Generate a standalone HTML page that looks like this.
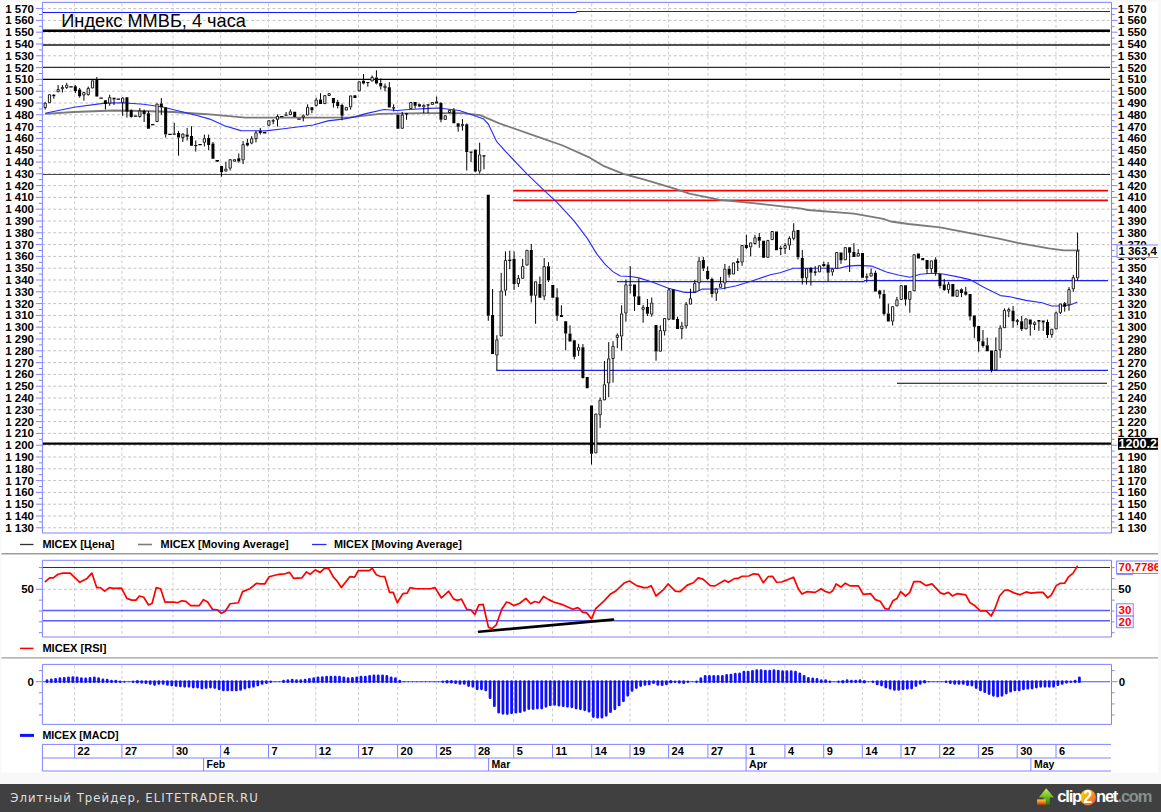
<!DOCTYPE html>
<html><head><meta charset="utf-8"><title>Индекс ММВБ, 4 часа</title>
<style>html,body{margin:0;padding:0;background:#f8f8f8;overflow:hidden}svg{display:block}text{font-family:"Liberation Sans",sans-serif}.b{font-weight:bold;font-size:11.5px;fill:#000}.g{stroke:#c2c2c2;stroke-width:1;stroke-dasharray:3 2.35;fill:none}.gv{stroke:#cdcdcd;stroke-width:1;stroke-dasharray:3 2.35;fill:none}.l{font-weight:bold;font-size:11px;fill:#000}.ax{stroke:#8282ff;stroke-width:1;fill:none}</style></head><body>
<svg width="1161" height="812" viewBox="0 0 1161 812">
<rect x="0" y="0" width="1161" height="812" fill="#f8f8f8"/>
<rect x="1.5" y="1.8" width="1156.5" height="770.7" fill="#fff"/>
<path class="g" d="M42.4 527.8H1109.5M42.4 516H1109.5M42.4 504.2H1109.5M42.4 492.4H1109.5M42.4 480.6H1109.5M42.4 468.8H1109.5M42.4 457H1109.5M42.4 445.2H1109.5M42.4 433.4H1109.5M42.4 421.6H1109.5M42.4 409.8H1109.5M42.4 398H1109.5M42.4 386.2H1109.5M42.4 374.4H1109.5M42.4 362.6H1109.5M42.4 350.8H1109.5M42.4 339H1109.5M42.4 327.2H1109.5M42.4 315.4H1109.5M42.4 303.6H1109.5M42.4 291.8H1109.5M42.4 280H1109.5M42.4 268.2H1109.5M42.4 256.4H1109.5M42.4 244.6H1109.5M42.4 232.8H1109.5M42.4 221H1109.5M42.4 209.2H1109.5M42.4 197.4H1109.5M42.4 185.6H1109.5M42.4 173.8H1109.5M42.4 162H1109.5M42.4 150.2H1109.5M42.4 138.4H1109.5M42.4 126.6H1109.5M42.4 114.8H1109.5M42.4 103H1109.5M42.4 91.2H1109.5M42.4 79.4H1109.5M42.4 67.6H1109.5M42.4 55.8H1109.5M42.4 44H1109.5M42.4 32.2H1109.5M42.4 20.4H1109.5M42.4 8.6H1109.5"/>
<path class="gv" d="M74.6 3.4V533M121.9 3.4V533M173 3.4V533M220.6 3.4V533M268.5 3.4V533M315.8 3.4V533M358.5 3.4V533M397.6 3.4V533M436.4 3.4V533M475 3.4V533M513.7 3.4V533M552.5 3.4V533M591.7 3.4V533M630 3.4V533M668.6 3.4V533M707.9 3.4V533M746.1 3.4V533M784.9 3.4V533M823.7 3.4V533M862.3 3.4V533M901 3.4V533M939.7 3.4V533M978.4 3.4V533M1017.2 3.4V533M1056 3.4V533"/>
<path class="ax" d="M35.9 527.8H42.4M1111.5 527.8H1117.5M38.9 521.9H42.4M1111.5 521.9H1114.5M35.9 516H42.4M1111.5 516H1117.5M38.9 510.1H42.4M1111.5 510.1H1114.5M35.9 504.2H42.4M1111.5 504.2H1117.5M38.9 498.3H42.4M1111.5 498.3H1114.5M35.9 492.4H42.4M1111.5 492.4H1117.5M38.9 486.5H42.4M1111.5 486.5H1114.5M35.9 480.6H42.4M1111.5 480.6H1117.5M38.9 474.7H42.4M1111.5 474.7H1114.5M35.9 468.8H42.4M1111.5 468.8H1117.5M38.9 462.9H42.4M1111.5 462.9H1114.5M35.9 457H42.4M1111.5 457H1117.5M38.9 451.1H42.4M1111.5 451.1H1114.5M35.9 445.2H42.4M1111.5 445.2H1117.5M38.9 439.3H42.4M1111.5 439.3H1114.5M35.9 433.4H42.4M1111.5 433.4H1117.5M38.9 427.5H42.4M1111.5 427.5H1114.5M35.9 421.6H42.4M1111.5 421.6H1117.5M38.9 415.7H42.4M1111.5 415.7H1114.5M35.9 409.8H42.4M1111.5 409.8H1117.5M38.9 403.9H42.4M1111.5 403.9H1114.5M35.9 398H42.4M1111.5 398H1117.5M38.9 392.1H42.4M1111.5 392.1H1114.5M35.9 386.2H42.4M1111.5 386.2H1117.5M38.9 380.3H42.4M1111.5 380.3H1114.5M35.9 374.4H42.4M1111.5 374.4H1117.5M38.9 368.5H42.4M1111.5 368.5H1114.5M35.9 362.6H42.4M1111.5 362.6H1117.5M38.9 356.7H42.4M1111.5 356.7H1114.5M35.9 350.8H42.4M1111.5 350.8H1117.5M38.9 344.9H42.4M1111.5 344.9H1114.5M35.9 339H42.4M1111.5 339H1117.5M38.9 333.1H42.4M1111.5 333.1H1114.5M35.9 327.2H42.4M1111.5 327.2H1117.5M38.9 321.3H42.4M1111.5 321.3H1114.5M35.9 315.4H42.4M1111.5 315.4H1117.5M38.9 309.5H42.4M1111.5 309.5H1114.5M35.9 303.6H42.4M1111.5 303.6H1117.5M38.9 297.7H42.4M1111.5 297.7H1114.5M35.9 291.8H42.4M1111.5 291.8H1117.5M38.9 285.9H42.4M1111.5 285.9H1114.5M35.9 280H42.4M1111.5 280H1117.5M38.9 274.1H42.4M1111.5 274.1H1114.5M35.9 268.2H42.4M1111.5 268.2H1117.5M38.9 262.3H42.4M1111.5 262.3H1114.5M35.9 256.4H42.4M1111.5 256.4H1117.5M38.9 250.5H42.4M1111.5 250.5H1114.5M35.9 244.6H42.4M1111.5 244.6H1117.5M38.9 238.7H42.4M1111.5 238.7H1114.5M35.9 232.8H42.4M1111.5 232.8H1117.5M38.9 226.9H42.4M1111.5 226.9H1114.5M35.9 221H42.4M1111.5 221H1117.5M38.9 215.1H42.4M1111.5 215.1H1114.5M35.9 209.2H42.4M1111.5 209.2H1117.5M38.9 203.3H42.4M1111.5 203.3H1114.5M35.9 197.4H42.4M1111.5 197.4H1117.5M38.9 191.5H42.4M1111.5 191.5H1114.5M35.9 185.6H42.4M1111.5 185.6H1117.5M38.9 179.7H42.4M1111.5 179.7H1114.5M35.9 173.8H42.4M1111.5 173.8H1117.5M38.9 167.9H42.4M1111.5 167.9H1114.5M35.9 162H42.4M1111.5 162H1117.5M38.9 156.1H42.4M1111.5 156.1H1114.5M35.9 150.2H42.4M1111.5 150.2H1117.5M38.9 144.3H42.4M1111.5 144.3H1114.5M35.9 138.4H42.4M1111.5 138.4H1117.5M38.9 132.5H42.4M1111.5 132.5H1114.5M35.9 126.6H42.4M1111.5 126.6H1117.5M38.9 120.7H42.4M1111.5 120.7H1114.5M35.9 114.8H42.4M1111.5 114.8H1117.5M38.9 108.9H42.4M1111.5 108.9H1114.5M35.9 103H42.4M1111.5 103H1117.5M38.9 97.1H42.4M1111.5 97.1H1114.5M35.9 91.2H42.4M1111.5 91.2H1117.5M38.9 85.3H42.4M1111.5 85.3H1114.5M35.9 79.4H42.4M1111.5 79.4H1117.5M38.9 73.5H42.4M1111.5 73.5H1114.5M35.9 67.6H42.4M1111.5 67.6H1117.5M38.9 61.7H42.4M1111.5 61.7H1114.5M35.9 55.8H42.4M1111.5 55.8H1117.5M38.9 49.9H42.4M1111.5 49.9H1114.5M35.9 44H42.4M1111.5 44H1117.5M38.9 38.1H42.4M1111.5 38.1H1114.5M35.9 32.2H42.4M1111.5 32.2H1117.5M38.9 26.3H42.4M1111.5 26.3H1114.5M35.9 20.4H42.4M1111.5 20.4H1117.5M38.9 14.5H42.4M1111.5 14.5H1114.5M35.9 8.6H42.4M1111.5 8.6H1117.5"/>
<text class="b" x="34" y="531.7" text-anchor="end">1 130</text>
<text class="b" x="1117.8" y="531.7">1 130</text>
<text class="b" x="34" y="519.9" text-anchor="end">1 140</text>
<text class="b" x="1117.8" y="519.9">1 140</text>
<text class="b" x="34" y="508.1" text-anchor="end">1 150</text>
<text class="b" x="1117.8" y="508.1">1 150</text>
<text class="b" x="34" y="496.3" text-anchor="end">1 160</text>
<text class="b" x="1117.8" y="496.3">1 160</text>
<text class="b" x="34" y="484.5" text-anchor="end">1 170</text>
<text class="b" x="1117.8" y="484.5">1 170</text>
<text class="b" x="34" y="472.7" text-anchor="end">1 180</text>
<text class="b" x="1117.8" y="472.7">1 180</text>
<text class="b" x="34" y="460.9" text-anchor="end">1 190</text>
<text class="b" x="1117.8" y="460.9">1 190</text>
<text class="b" x="34" y="449.1" text-anchor="end">1 200</text>
<text class="b" x="1117.8" y="449.1">1 200</text>
<text class="b" x="34" y="437.3" text-anchor="end">1 210</text>
<text class="b" x="1117.8" y="437.3">1 210</text>
<text class="b" x="34" y="425.5" text-anchor="end">1 220</text>
<text class="b" x="1117.8" y="425.5">1 220</text>
<text class="b" x="34" y="413.7" text-anchor="end">1 230</text>
<text class="b" x="1117.8" y="413.7">1 230</text>
<text class="b" x="34" y="401.9" text-anchor="end">1 240</text>
<text class="b" x="1117.8" y="401.9">1 240</text>
<text class="b" x="34" y="390.1" text-anchor="end">1 250</text>
<text class="b" x="1117.8" y="390.1">1 250</text>
<text class="b" x="34" y="378.3" text-anchor="end">1 260</text>
<text class="b" x="1117.8" y="378.3">1 260</text>
<text class="b" x="34" y="366.5" text-anchor="end">1 270</text>
<text class="b" x="1117.8" y="366.5">1 270</text>
<text class="b" x="34" y="354.7" text-anchor="end">1 280</text>
<text class="b" x="1117.8" y="354.7">1 280</text>
<text class="b" x="34" y="342.9" text-anchor="end">1 290</text>
<text class="b" x="1117.8" y="342.9">1 290</text>
<text class="b" x="34" y="331.1" text-anchor="end">1 300</text>
<text class="b" x="1117.8" y="331.1">1 300</text>
<text class="b" x="34" y="319.3" text-anchor="end">1 310</text>
<text class="b" x="1117.8" y="319.3">1 310</text>
<text class="b" x="34" y="307.5" text-anchor="end">1 320</text>
<text class="b" x="1117.8" y="307.5">1 320</text>
<text class="b" x="34" y="295.7" text-anchor="end">1 330</text>
<text class="b" x="1117.8" y="295.7">1 330</text>
<text class="b" x="34" y="283.9" text-anchor="end">1 340</text>
<text class="b" x="1117.8" y="283.9">1 340</text>
<text class="b" x="34" y="272.1" text-anchor="end">1 350</text>
<text class="b" x="1117.8" y="272.1">1 350</text>
<text class="b" x="34" y="260.3" text-anchor="end">1 360</text>
<text class="b" x="1117.8" y="260.3">1 360</text>
<text class="b" x="34" y="248.5" text-anchor="end">1 370</text>
<text class="b" x="1117.8" y="248.5">1 370</text>
<text class="b" x="34" y="236.7" text-anchor="end">1 380</text>
<text class="b" x="1117.8" y="236.7">1 380</text>
<text class="b" x="34" y="224.9" text-anchor="end">1 390</text>
<text class="b" x="1117.8" y="224.9">1 390</text>
<text class="b" x="34" y="213.1" text-anchor="end">1 400</text>
<text class="b" x="1117.8" y="213.1">1 400</text>
<text class="b" x="34" y="201.3" text-anchor="end">1 410</text>
<text class="b" x="1117.8" y="201.3">1 410</text>
<text class="b" x="34" y="189.5" text-anchor="end">1 420</text>
<text class="b" x="1117.8" y="189.5">1 420</text>
<text class="b" x="34" y="177.7" text-anchor="end">1 430</text>
<text class="b" x="1117.8" y="177.7">1 430</text>
<text class="b" x="34" y="165.9" text-anchor="end">1 440</text>
<text class="b" x="1117.8" y="165.9">1 440</text>
<text class="b" x="34" y="154.1" text-anchor="end">1 450</text>
<text class="b" x="1117.8" y="154.1">1 450</text>
<text class="b" x="34" y="142.3" text-anchor="end">1 460</text>
<text class="b" x="1117.8" y="142.3">1 460</text>
<text class="b" x="34" y="130.5" text-anchor="end">1 470</text>
<text class="b" x="1117.8" y="130.5">1 470</text>
<text class="b" x="34" y="118.7" text-anchor="end">1 480</text>
<text class="b" x="1117.8" y="118.7">1 480</text>
<text class="b" x="34" y="106.9" text-anchor="end">1 490</text>
<text class="b" x="1117.8" y="106.9">1 490</text>
<text class="b" x="34" y="95.1" text-anchor="end">1 500</text>
<text class="b" x="1117.8" y="95.1">1 500</text>
<text class="b" x="34" y="83.3" text-anchor="end">1 510</text>
<text class="b" x="1117.8" y="83.3">1 510</text>
<text class="b" x="34" y="71.5" text-anchor="end">1 520</text>
<text class="b" x="1117.8" y="71.5">1 520</text>
<text class="b" x="34" y="59.7" text-anchor="end">1 530</text>
<text class="b" x="1117.8" y="59.7">1 530</text>
<text class="b" x="34" y="47.9" text-anchor="end">1 540</text>
<text class="b" x="1117.8" y="47.9">1 540</text>
<text class="b" x="34" y="36.1" text-anchor="end">1 550</text>
<text class="b" x="1117.8" y="36.1">1 550</text>
<text class="b" x="34" y="24.3" text-anchor="end">1 560</text>
<text class="b" x="1117.8" y="24.3">1 560</text>
<text class="b" x="34" y="12.5" text-anchor="end">1 570</text>
<text class="b" x="1117.8" y="12.5">1 570</text>
<path d="M42.4 12.5H576.5V11.5H1110" stroke="#1818ff" stroke-width="1" fill="none"/>
<path d="M42.4 30.7H1110" stroke="#000" stroke-width="2.4"/>
<path d="M42.4 45.1H1110" stroke="#505050" stroke-width="2"/>
<path d="M42.4 67.4H1110" stroke="#303030" stroke-width="1.2"/>
<path d="M42.4 79.3H1110" stroke="#000" stroke-width="1.2"/>
<path d="M42.4 174.5H576" stroke="#4a4a4a" stroke-width="1"/>
<path d="M576 174.4H1110" stroke="#2a2a2a" stroke-width="1.05"/>
<path d="M513.2 190.6H1108M513.2 200.4H1108" stroke="#f00" stroke-width="1.9"/>
<path d="M617 281.6H864.5M864 280.7H1108" stroke="#2020ff" stroke-width="1.25"/>
<path d="M496.4 370.4H1108" stroke="#2020ff" stroke-width="1.1"/>
<path d="M897 383.3H1107" stroke="#000" stroke-width="1.1"/>
<path d="M42.4 443.6H1111" stroke="#000" stroke-width="2.1"/>
<polyline points="45.2,113.9 74,112 113.9,110.5 143.4,111 173,112 195,113.5 209.8,114.4 245.2,117.6 283.6,117.6 325,117.6 350,117.3 379.5,113.9 423.9,113.2 462.3,113.2 480,115.2 499.3,123.4 535.1,135.8 562.7,145.5 590.3,157.9 604,166.2 623.3,173.9 645.4,179.9 672.9,188.2 689.5,193.7 719.8,199.8 755.6,203.4 800,208.3 808,210 853.9,213.7 883.4,218.9 890.8,221.5 908.5,224 940,227.4 1000,238.8 1017.7,242.8 1048.8,248.3 1063.6,250.4 1079.8,250.4" fill="none" stroke="#7a7a7a" stroke-width="1.8" stroke-linejoin="round"/>
<polyline points="45.2,113.2 74,107.3 105,103.1 122,102.8 143.4,104.3 162.6,107 195,115 209.8,119.1 224.5,125.7 240.8,130.6 265.9,130.9 283.6,128.7 313.2,125 327.9,120.9 342.7,119.1 355,116.9 364.8,113.9 384,109.5 397.3,110.5 409,109.5 429.8,108.4 438.6,108 459.3,110.5 474,115.4 483.7,119.1 488.3,124 496.5,141.3 507.6,153.7 526.9,173.9 543.5,189.8 556.8,202.2 574.5,221.4 587.8,239.1 596.7,253.9 605.6,264.9 612.9,271.6 620.3,276 630.7,276.5 638.9,277.9 652.2,282 668.4,288.2 684.7,292.4 695,292.4 702.4,289.1 721.6,288.7 736.4,285.7 751.1,281.3 770.3,274.7 780,272.8 793.3,268.3 824.3,268.3 839,268.3 848,266.1 858.3,265.4 871.6,266.1 886.4,272 898.2,275 910,277.2 920.3,274.3 932.1,273.2 942.8,274 955.6,276.4 970,279.6 982.8,286.8 1000.4,295.6 1010,296.8 1026,300.4 1042,302.8 1051.7,306 1062.9,306 1070.9,304.8 1077.3,302" fill="none" stroke="#2828ff" stroke-width="1.1" stroke-linejoin="round"/>
<path d="M45.2 102V102.8M45.2 108V109.5M53.8 94V94.7M53.8 96.2V98.7M58.11 85.1V89.2M62.41 85.1V87M62.41 89.1V92.5M66.71 82.9V84.8M66.71 88V88.8M75.31 85.1V86.3M75.31 91V93.2M79.61 88V89.5M79.61 96.2V97.7M83.91 91.8V92.2M83.91 95.5V100.6M88.22 86.6V88M88.22 95V95.5M96.82 77V79.2M96.82 96.6V97M105.42 104V109.5M109.72 94.7V97.2M109.72 103.6V105.8M114.03 99.6V105M122.63 97V97.7M122.63 102.8V115.8M126.93 111.7V117.6M131.23 109.5V110.2M131.23 116.9V117.6M139.84 108V110.5M139.84 116.9V117.6M144.14 109.5V111M144.14 113.9V122M148.44 111V113.2M161.34 98.1V103.6M161.34 107.3V114.7M165.65 134.6V137.5M174.25 122.8V133.6M178.55 130.9V133.1M178.55 137.5V155.7M182.85 133.1V133.6M182.85 138V142M187.15 127.9V134.6M187.15 136.8V140.5M191.46 126.2V136.1M195.76 140.5V144.9M195.76 145.7V151.6M204.36 134.6V138.3M204.36 142.7V146.4M208.66 134.6V138M208.66 144.9V150.1M212.96 142V143.5M217.27 160.7V162M221.57 172.3V176.7M225.87 161.9V168.6M230.17 168.6V170.5M238.77 153.4V158.2M238.77 161.6V162.7M243.08 140.9V144.2M243.08 160.4V164.1M247.38 139V142.7M247.38 145.4V146.4M251.68 136.1V138.3M251.68 143.5V144.2M255.98 130.9V132.4M255.98 139V142.4M260.28 127.9V130.9M260.28 133.1V134.6M273.19 119.1V120.3M273.19 120.9V124.3M277.49 114.4V116.1M277.49 119.8V126.5M286.09 112V114.5M290.39 109.5V111.4M303.3 114.4V115.4M303.3 117.6V121.3M307.6 104.3V107M311.9 110.2V113.2M316.2 97.7V99.6M316.2 105.8V106.5M320.51 93.2V99.6M333.41 103.1V107.6M337.71 99.9V102.1M337.71 106.1V108.4M342.01 103.6V105M342.01 115.8V120.3M350.62 107.3V109.5M363.52 74V80.7M363.52 83.6V84.4M367.82 82.5V86.6M372.13 75.5V77M376.43 70.3V77.4M376.43 83.6V84.4M380.73 78.5V82.9M380.73 86.6V89.5M385.03 83.6V85.8M385.03 88.1V91.3M389.33 82.2V87.3M393.63 104.3V107.3M393.63 108V111.4M402.24 112V114.7M406.54 113.8V119.8M415.14 105.8V108.4M419.44 103.6V104.3M419.44 106.5V107.2M423.75 104.3V105M423.75 107.3V113.2M428.05 104.9V113.2M436.65 96.6V101.4M440.95 102.1V103.1M440.95 119.8V122.3M453.86 108V110.2M458.16 126.8V131.6M462.46 119.1V124.3M462.46 125.7V130.6M466.76 123.5V124.3M466.76 151.9V170.5M471.06 152.2V161.9M475.37 149.4V149.8M475.37 171.5V172.3M479.67 142.7V154.5M479.67 171.5V173.7M483.97 155.9V169.3M488.27 315.7V320.8M492.57 289.1V314.9M496.87 335.2V339.5M496.87 355.5V370.5M501.18 272.8V290.6M505.48 251.4V260M505.48 290.6V295.7M509.78 250.7V259.5M509.78 261V269.1M514.08 251.4V258.8M514.08 283.9V289.8M518.38 275V278M518.38 283.9V286.9M522.68 258.8V266.2M531.29 244V249.9M531.29 295.7V302.4M535.59 295.7V323.8M539.89 276.5V283.9M544.19 258.1V266.2M544.19 296.5V300.2M548.49 262.2V266.2M548.49 280.2V282M557.1 288.3V297.2M557.1 315.7V320.8M561.4 305.3V314.9M565.7 333.4V350.3M570 325.3V333.4M574.3 356.7V359.3M578.61 343.8V347.2M578.61 350.7V355.9M582.91 344.1V347.2M582.91 377.9V378.6M591.51 453.8V464.5M600.11 397.6V399.8M600.11 415.3V427.9M604.42 361V384.3M608.72 342.1V358.4M608.72 383.4V397.2M613.02 341.2V345.9M613.02 359V382.6M617.32 333.4V334.9M617.32 337.8V348.2M621.62 305.3V313.5M621.62 336.4V350.5M625.92 279.5V284.4M625.92 313.5V321.6M630.23 266.2V284.4M630.23 285.8V293.5M634.53 296.5V310.9M638.83 278.5V296.3M643.13 304.9V306.9M643.13 309.8V322.7M647.43 299V307.1M647.43 313.8V316M651.73 297.5V302.7M651.73 314.5V316.7M656.04 351.6V360.7M660.34 325.3V330.2M664.64 331.4V335.5M668.94 288V289.4M677.54 316.7V319M681.85 321.9V325.6M681.85 329V338.9M686.15 302V303.9M686.15 326.4V328.6M690.45 288.7V298.3M694.75 279.8V283.2M694.75 292.4V293.1M699.05 256.9V260.6M699.05 283.2V290.9M703.35 256.9V259.9M703.35 268.4V271M707.66 266.5V271M707.66 279.1V279.8M711.96 277.6V279.1M711.96 293.9V297.5M716.26 287.9V288.7M716.26 293.6V300.9M720.56 276.9V283.5M724.86 264V268.7M724.86 283.5V289.4M729.16 265.8V268.7M729.16 274.7V277.6M737.77 258.4V261.1M737.77 263.1V271M742.07 262.5V265.8M746.37 234.8V245.1M746.37 248.1V249.2M750.67 247.3V256.2M754.97 234.8V237.4M754.97 243.9V244.4M759.28 233V237M759.28 240.7V247.8M780.78 245.8V247.7M780.78 248.3V255.2M785.09 242.9V245.1M785.09 248.8V254M789.39 236.3V238M789.39 245.5V249.9M793.69 223.3V230.7M793.69 238.8V240.3M797.99 257.3V259.5M802.29 249.9V258M802.29 278.2V284.6M806.59 278.2V284.6M810.9 266.9V267.9M810.9 272.8V285.6M815.2 266.1V271.3M815.2 272.8V275.7M823.8 261.7V263.9M823.8 266.1V266.9M828.1 262V264.4M828.1 272.8V281.6M832.4 268.3V268.8M832.4 272.3V275.7M841.01 260.2V263.9M849.61 252.8V272M853.91 243.2V252.1M858.21 249.1V253.1M866.82 273.5V276.2M866.82 277.7V282.4M871.12 268.3V272.8M875.42 270.6V272.8M879.72 289.8V290.5M879.72 294.5V298.6M884.02 289.8V293.9M884.02 314.1V315.6M888.33 303.8V313.4M892.63 321.5V325.5M896.93 296.9V299.4M905.53 299.4V305.7M909.83 299.8V312.7M927.04 269.1V273.8M931.34 269.1V272.8M935.64 257.3V259.5M935.64 272.8V275.7M939.95 286V288.4M944.25 278.8V284.4M944.25 290V290.8M948.55 282V283.9M948.55 290V293.5M961.45 288.4V289.2M961.45 292.9V297.2M965.76 286.8V291.6M965.76 294.8V295.6M970.06 316.4V320.4M974.36 326.8V338.1M978.66 341.6V351.7M982.96 330V341.3M982.96 346.1V347.7M987.26 337.7V345.3M991.57 370.4V372.5M995.87 337.3V350.1M1000.17 325.2V327.6M1000.17 350.5V358.1M1004.47 308.4V310M1008.77 307.6V309.2M1008.77 311.6V317.2M1013.07 306V310.8M1013.07 321.2V327.6M1017.38 318.8V320.1M1017.38 322V325.2M1021.68 316V321.2M1021.68 329.3V330.9M1030.28 324.4V335.7M1034.58 321.2V322.4M1034.58 324.9V330M1038.88 321.7V330.9M1043.19 322.4V330.9M1047.49 319.6V322M1047.49 334.9V338.1M1051.79 334.9V337.7M1056.09 311.6V312.4M1060.39 312.8V314M1064.69 302V303.2M1064.69 306.8V311.6M1069 287.1V289.2M1069 305.2V310.8M1073.3 274.8V277.2M1073.3 289.2V291.9M1077.6 232.5V250.7M1077.6 278.3V280.5" stroke="#000" stroke-width="1" fill="none"/>
<path d="M52.3 94.7h3v1.5h-3zM69.31 86.3h3.4v1.3h-3.4zM73.81 86.3h3v4.7h-3zM78.11 89.5h3v6.7h-3zM95.32 79.2h3v17.4h-3zM99.42 97.5h3.4v1.3h-3.4zM103.92 100.2h3v3.8h-3zM112.53 97.7h3v1.9h-3zM116.63 98.5h3.4v1.3h-3.4zM125.43 97.2h3v14.5h-3zM129.73 110.2h3v6.7h-3zM133.83 115.5h3.4v1.3h-3.4zM142.64 111h3v2.9h-3zM146.94 113.2h3v15.5h-3zM151.04 123.9h3.4v1.3h-3.4zM159.84 103.6h3v3.7h-3zM164.15 107.6h3v27h-3zM168.25 133.7h3.4v1.3h-3.4zM172.75 133.6h3v1.2h-3zM177.05 133.1h3v4.4h-3zM185.65 134.6h3v2.2h-3zM189.96 136.1h3v9.6h-3zM194.26 144.9h3v1.2h-3zM198.36 143.9h3.4v1.3h-3.4zM207.16 138h3v6.9h-3zM211.46 143.5h3v15.2h-3zM215.57 160.1h3.4v1.3h-3.4zM220.07 166h3v6.3h-3zM237.27 158.2h3v3.4h-3zM245.88 142.7h3v2.7h-3zM258.78 130.9h3v2.2h-3zM262.88 132.1h3.4v1.3h-3.4zM271.69 120.3h3v1.2h-3zM280.09 116h3.4v1.3h-3.4zM284.59 114.5h3v1.2h-3zM293.2 111.7h3v5.2h-3zM297.3 118.5h3.4v1.3h-3.4zM310.4 107.3h3v2.9h-3zM319.01 99.6h3v4.4h-3zM331.91 98.1h3v5h-3zM336.21 102.1h3v4h-3zM340.51 105h3v10.8h-3zM353.42 95.2h3v2.9h-3zM362.02 80.7h3v2.9h-3zM366.32 81.9h3v1.2h-3zM374.93 77.4h3v6.2h-3zM379.23 82.9h3v3.7h-3zM387.83 87.3h3v20.3h-3zM392.13 107.3h3v1.2h-3zM396.44 114.7h3v14h-3zM405.04 113.2h3v1.2h-3zM413.64 102.1h3v3.7h-3zM417.94 104.3h3v2.2h-3zM426.55 104.3h3v1.2h-3zM435.15 101.4h3v2.2h-3zM439.45 103.1h3v16.7h-3zM452.36 110.2h3v13h-3zM456.66 123.2h3v3.6h-3zM460.96 124.3h3v1.4h-3zM465.26 124.3h3v27.6h-3zM469.56 151.6h3v1.2h-3zM473.87 149.8h3v21.7h-3zM482.47 155.3h3v1.2h-3zM486.77 194.8h3v120.9h-3zM491.07 314.9h3v39.2h-3zM508.28 259.5h3v1.5h-3zM512.58 258.8h3v25.1h-3zM529.79 249.9h3v45.8h-3zM538.39 283.9h3v13.8h-3zM546.99 266.2h3v14h-3zM551.3 284.9h3v12.8h-3zM555.6 297.2h3v18.5h-3zM559.9 314.9h3v2.2h-3zM564.2 321.3h3v12.1h-3zM568.5 333.4h3v8.1h-3zM572.8 340.3h3v16.4h-3zM581.41 347.2h3v30.7h-3zM585.71 376.9h3v11.4h-3zM590.01 405.5h3v48.3h-3zM628.73 284.4h3v1.4h-3zM633.03 284.4h3v12.1h-3zM637.33 296.3h3v8.8h-3zM645.93 307.1h3v6.7h-3zM654.54 325h3v26.6h-3zM671.74 289.4h3v30.3h-3zM676.04 319h3v10h-3zM701.85 259.9h3v8.5h-3zM706.16 271h3v8.1h-3zM710.46 279.1h3v14.8h-3zM727.66 268.7h3v6h-3zM736.27 261.1h3v2h-3zM744.87 245.1h3v3h-3zM757.78 237h3v3.7h-3zM762.08 240.7h3v17h-3zM774.98 231.5h3v18.8h-3zM779.28 247.7h3v1.2h-3zM796.49 229.9h3v27.4h-3zM800.79 258h3v20.2h-3zM809.4 267.9h3v4.9h-3zM822.3 263.9h3v2.2h-3zM826.6 264.4h3v8.4h-3zM839.51 252.5h3v7.7h-3zM848.11 247.2h3v5.6h-3zM852.41 252.1h3v4.9h-3zM861.02 253.1h3v24.6h-3zM865.32 276.2h3v1.5h-3zM873.92 272.8h3v18.7h-3zM878.22 290.5h3v4h-3zM882.52 293.9h3v20.2h-3zM886.83 313.4h3v8.1h-3zM904.03 285.3h3v14.1h-3zM916.94 253.6h3v4.8h-3zM921.24 258h3v2.2h-3zM925.54 259.9h3v9.2h-3zM934.14 259.5h3v13.3h-3zM938.45 273.7h3v12.3h-3zM942.75 284.4h3v5.6h-3zM951.35 283.9h3v12.5h-3zM959.95 289.2h3v3.7h-3zM964.26 291.6h3v3.2h-3zM968.56 294h3v22.4h-3zM972.86 315.6h3v11.2h-3zM977.16 326h3v15.6h-3zM981.46 341.3h3v4.8h-3zM985.76 345.3h3v5.9h-3zM990.07 350.5h3v19.9h-3zM1011.57 310.8h3v10.4h-3zM1020.18 321.2h3v8.1h-3zM1028.78 319.6h3v4.8h-3zM1037.38 320.1h3v1.6h-3zM1041.69 320.4h3v2h-3zM1045.99 322h3v12.9h-3zM1063.19 303.2h3v3.6h-3z" fill="#000"/>
<path d="M44.1 103.2h2.2v4.4h-2.2zM48.4 94.7h2.2v8h-2.2zM57.01 89.6h2.2v2.2h-2.2zM61.31 87.4h2.2v1.3h-2.2zM65.61 85.2h2.2v2.4h-2.2zM82.81 92.6h2.2v2.5h-2.2zM87.12 88.4h2.2v6.2h-2.2zM91.42 80.8h2.2v7.2h-2.2zM108.62 97.6h2.2v5.6h-2.2zM121.53 98.1h2.2v4.3h-2.2zM138.74 110.9h2.2v5.6h-2.2zM155.94 104h2.2v17.6h-2.2zM181.75 134h2.2v3.6h-2.2zM203.26 138.7h2.2v3.6h-2.2zM224.77 169h2.2v2.1h-2.2zM229.07 159.7h2.2v8.5h-2.2zM233.37 159.7h2.2v1.5h-2.2zM241.98 144.6h2.2v15.4h-2.2zM250.58 138.7h2.2v4.4h-2.2zM254.88 132.8h2.2v5.8h-2.2zM267.79 120.7h2.2v4.6h-2.2zM276.39 116.5h2.2v2.9h-2.2zM289.29 111.8h2.2v2.8h-2.2zM302.2 115.8h2.2v1.4h-2.2zM306.5 107.4h2.2v7.6h-2.2zM315.1 100h2.2v5.4h-2.2zM323.71 95.6h2.2v8h-2.2zM328.01 93.6h2.2v1.9h-2.2zM345.22 107.4h2.2v2.7h-2.2zM349.52 95.9h2.2v11h-2.2zM358.12 81.8h2.2v9.1h-2.2zM371.03 77.4h2.2v3.6h-2.2zM383.93 86.2h2.2v1.5h-2.2zM401.14 115.1h2.2v13.2h-2.2zM409.74 102.5h2.2v6.1h-2.2zM422.65 105.4h2.2v1.5h-2.2zM431.25 102.5h2.2v1.9h-2.2zM444.15 115.8h2.2v3.6h-2.2zM448.46 110.3h2.2v2.2h-2.2zM478.57 154.9h2.2v16.2h-2.2zM495.77 339.9h2.2v15.2h-2.2zM500.08 291h2.2v45h-2.2zM504.38 260.4h2.2v29.8h-2.2zM517.28 278.4h2.2v5.1h-2.2zM521.58 266.6h2.2v11.7h-2.2zM525.89 250.3h2.2v14.8h-2.2zM534.49 281.8h2.2v13.5h-2.2zM543.09 266.6h2.2v29.5h-2.2zM577.51 347.6h2.2v2.7h-2.2zM594.71 414h2.2v38.9h-2.2zM599.01 400.2h2.2v14.7h-2.2zM603.32 384.7h2.2v15.2h-2.2zM607.62 358.8h2.2v24.2h-2.2zM611.92 346.3h2.2v12.3h-2.2zM616.22 335.3h2.2v2.1h-2.2zM620.52 313.9h2.2v22.1h-2.2zM624.82 284.8h2.2v28.3h-2.2zM642.03 307.3h2.2v2.1h-2.2zM650.63 303.1h2.2v11h-2.2zM659.24 330.6h2.2v20.6h-2.2zM663.54 318.5h2.2v12.5h-2.2zM667.84 289.8h2.2v29.5h-2.2zM680.75 326h2.2v2.6h-2.2zM685.05 304.3h2.2v21.7h-2.2zM689.35 298.7h2.2v5.4h-2.2zM693.65 283.6h2.2v8.4h-2.2zM697.95 261h2.2v21.8h-2.2zM715.16 289.1h2.2v4.1h-2.2zM719.46 283.9h2.2v3.4h-2.2zM723.76 269.1h2.2v14h-2.2zM732.37 262.9h2.2v11.1h-2.2zM740.97 245.5h2.2v16.6h-2.2zM749.57 242.9h2.2v4h-2.2zM753.87 237.8h2.2v5.7h-2.2zM766.78 240.4h2.2v16.9h-2.2zM771.08 231.5h2.2v8.1h-2.2zM783.99 245.5h2.2v2.9h-2.2zM788.29 238.4h2.2v6.7h-2.2zM792.59 231.1h2.2v7.3h-2.2zM805.49 268.7h2.2v9.1h-2.2zM814.1 271.7h2.2v0.8h-2.2zM818.4 265.8h2.2v6.1h-2.2zM831.3 269.2h2.2v2.7h-2.2zM835.61 252.5h2.2v15.9h-2.2zM844.21 247.6h2.2v12.2h-2.2zM857.11 253.5h2.2v2.6h-2.2zM870.02 273.2h2.2v2.9h-2.2zM891.53 306.7h2.2v14.4h-2.2zM895.83 299.8h2.2v6.1h-2.2zM900.13 285.7h2.2v13.7h-2.2zM908.73 291.6h2.2v7.8h-2.2zM913.04 254.7h2.2v36.1h-2.2zM930.24 260.9h2.2v7.8h-2.2zM947.45 284.3h2.2v5.3h-2.2zM956.05 290.1h2.2v6.3h-2.2zM994.77 350.5h2.2v19.5h-2.2zM999.07 328h2.2v22.1h-2.2zM1003.37 310.4h2.2v17.3h-2.2zM1007.67 309.6h2.2v1.6h-2.2zM1016.28 320.5h2.2v1.1h-2.2zM1024.88 318.9h2.2v10h-2.2zM1033.48 322.8h2.2v1.7h-2.2zM1050.69 329.2h2.2v5.3h-2.2zM1054.99 312.8h2.2v16.1h-2.2zM1059.29 304h2.2v8.4h-2.2zM1067.9 289.6h2.2v15.2h-2.2zM1072.2 277.6h2.2v11.2h-2.2zM1076.5 251.1h2.2v26.8h-2.2z" fill="#fff" stroke="#000" stroke-width="0.9"/>
<path class="ax" d="M42.4 2.4H1111.5V533H42.4Z"/>
<text x="61.3" y="26.6" font-size="18.2px" fill="#000">Индекс ММВБ, 4 часа</text>
<rect x="1117" y="245" width="46" height="12.6" fill="#fff" stroke="#8282ff" stroke-width="1"/>
<text class="b" x="1118.5" y="255.3">1 363,4</text>
<rect x="1118" y="437.9" width="40" height="11.9" fill="#000"/>
<text class="b" x="1118.4" y="448.4" style="fill:#fff;font-size:12.6px">1200.22</text>
<path d="M20 544.5H33.5" stroke="#303030" stroke-width="1.3"/>
<text class="l" x="42.4" y="548.4" textLength="72" lengthAdjust="spacingAndGlyphs">MICEX [Цена]</text>
<path d="M138 544.5H152" stroke="#7c7c7c" stroke-width="1.6"/>
<text class="l" x="160.6" y="548.4" textLength="128" lengthAdjust="spacingAndGlyphs">MICEX [Moving Average]</text>
<path d="M312 544.5H326.5" stroke="#2828ff" stroke-width="1.3"/>
<text class="l" x="334" y="548.4" textLength="128" lengthAdjust="spacingAndGlyphs">MICEX [Moving Average]</text>
<path d="M1.5 553.8H1158" stroke="#9c9c98" stroke-width="1.4"/>
<path class="g" d="M42.4 589.3H1109.5"/>
<path class="gv" d="M74.6 561.3V637M121.9 561.3V637M173 561.3V637M220.6 561.3V637M268.5 561.3V637M315.8 561.3V637M358.5 561.3V637M397.6 561.3V637M436.4 561.3V637M475 561.3V637M513.7 561.3V637M552.5 561.3V637M591.7 561.3V637M630 561.3V637M668.6 561.3V637M707.9 561.3V637M746.1 561.3V637M784.9 561.3V637M823.7 561.3V637M862.3 561.3V637M901 561.3V637M939.7 561.3V637M978.4 561.3V637M1017.2 561.3V637M1056 561.3V637"/>
<path class="ax" d="M38.9 567.6H42.4M1111.5 567.6H1114.5M38.9 578.45H42.4M1111.5 578.45H1114.5M35.9 589.3H42.4M1111.5 589.3H1117.5M38.9 600.15H42.4M1111.5 600.15H1114.5M38.9 611H42.4M1111.5 611H1114.5M38.9 621.85H42.4M1111.5 621.85H1114.5M38.9 632.7H42.4M1111.5 632.7H1114.5"/>
<path d="M42.4 567.5H1110" stroke="#1818e8" stroke-width="1.1"/>
<path d="M42.4 610.4H1110M42.4 620.8H1110" stroke="#5c5cff" stroke-width="1.5"/>
<path d="M479 631.7L613 619.6" stroke="#000" stroke-width="2.6" stroke-linecap="round"/>
<polyline points="45.31,581.53 49.65,577.91 53.27,577.91 58.09,574.3 62.91,573.09 70.15,573.09 79.8,582.26 87.03,578.4 91.86,573.09 96.68,587.56 100.3,587.56 104.64,591.18 109.46,587.56 113.56,588.29 121.52,588.04 126.83,598.42 131.65,600.1 136,600.1 139.37,596 143.71,597.21 148.54,604.93 152.16,603.24 156.26,587.56 160.6,588.77 164.94,602.03 173.86,602.03 177.48,602.76 181.82,600.83 185.92,601.31 190.75,605.65 199.19,605.65 203.53,599.62 207.63,602.03 212.46,609.27 217.28,609.75 221.38,613.37 225.24,611.2 230.06,603.72 238.26,602.76 242.6,591.66 249.84,588.77 256.35,583.46 260.69,583.94 264.79,583.94 269.14,576.71 273.96,575.5 278.78,574.3 284.81,573.81 289.64,572.37 293.74,578.4 301.7,577.91 306.52,571.88 310,574.3 315.31,569.95 320.13,572.37 324.47,568.27 328.81,568.75 333.4,577.19 336.53,580.33 341.36,587.56 349.8,576.71 354.62,577.19 358.24,570.68 369.09,570.68 372.23,568.27 376.33,574.78 379.95,576.23 384.77,576.71 389.59,592.39 393.21,592.39 397.31,602.76 402.86,593.59 407.2,593.11 410.1,587.56 416.13,588.77 430.6,588.77 434.94,587.56 441.45,597.93 448.69,591.18 453.51,598.9 457.13,600.34 461.47,599.14 466.78,609.27 471.12,609.99 474.74,614.58 478.84,604.93 483.18,604.45 488.49,627.36 492.1,628.56 496.2,624.95 501.75,609.27 506.58,602.03 510.19,603.24 513.81,605.65 519.84,603.24 525.87,598.42 530.69,603.72 534.79,601.55 539.14,602.76 543.48,596.49 548.78,599.62 553.61,602.03 563.26,604.93 572.9,609.27 577.73,607.58 580,609.27 582.41,612.16 586.75,612.89 591.58,618.92 595.68,608.55 604.12,600.83 610.15,594.32 616.18,590.7 624.62,582.74 629.45,581.05 636.68,585.63 643.92,587.56 647.53,587.56 651.15,585.63 655.98,596 663.21,589.97 668.04,583.94 675.27,591.18 680.1,591.66 687.33,585.15 693.36,582.74 698.19,577.91 703.01,579.12 710.25,585.63 715.07,585.87 724.72,580.33 728.34,582.26 734.37,578.64 737.98,578.4 742.08,576.23 748.84,575.98 753.66,573.81 758.49,574.3 763.31,582.74 768.13,576.71 772.47,576.23 776.58,582.26 781.4,582.01 787.43,579.84 793.46,577.19 798.28,588.77 801.9,594.07 806.72,591.66 815.17,592.39 821.2,588.77 824.81,591.18 829.64,592.87 832.77,590.7 836.15,583.94 840.97,587.08 845.32,583.22 850,585.87 858.44,585.87 863.27,594.32 870.5,593.59 875.33,599.62 880.15,601.31 884.97,608.55 888.59,609.27 892.93,600.83 897.03,598.42 900.65,591.66 905.48,596 909.82,592.39 913.92,581.53 919.95,581.53 925.98,585.63 932.01,583.94 940.45,592.87 944.07,594.07 948.41,592.39 952.51,596 957.33,593.59 965.77,594.8 969.87,602.52 974.22,605.17 980.25,610.96 986.28,610.96 991.1,616.02 994.72,609.27 999.54,596 1004.37,590.46 1007.98,589.97 1014.01,592.87 1020.04,594.8 1026.07,591.9 1030.9,593.11 1038.13,592.39 1042.96,592.39 1047.78,597.93 1051.4,594.8 1056.22,585.63 1059.84,583.46 1064.66,583.22 1068.28,577.19 1073.11,573.09 1077.21,566.34" fill="none" stroke="#f00" stroke-width="1.7" stroke-linejoin="round" stroke-linecap="round"/>
<path class="ax" d="M42.4 560.3H1111.5V637H42.4Z"/>
<text class="b" x="34" y="593.4" text-anchor="end">50</text>
<text class="b" x="1118.3" y="593.4">50</text>
<rect x="1116.6" y="561" width="46" height="12.5" fill="#fff" stroke="#8282ff"/>
<text class="b" x="1118.5" y="571.4" style="fill:#f00">70,7786</text>
<path class="ax" d="M1116.6 574.6H1133.2"/>
<rect x="1116.6" y="603.8" width="16.6" height="12.3" fill="#fff" stroke="#8282ff"/>
<rect x="1116.6" y="616.1" width="16.6" height="11.6" fill="#fff" stroke="#8282ff"/>
<text class="b" x="1118.5" y="614.3" style="fill:#f00">30</text>
<text class="b" x="1118.5" y="626" style="fill:#f00">20</text>
<path d="M20 648.4H33.5" stroke="#f00" stroke-width="1.5"/>
<text class="l" x="42.4" y="652.3" textLength="64" lengthAdjust="spacingAndGlyphs">MICEX [RSI]</text>
<path d="M1.5 657.9H1158" stroke="#9c9c98" stroke-width="1.4"/>
<path class="gv" d="M74.6 665.4V724.4M121.9 665.4V724.4M173 665.4V724.4M220.6 665.4V724.4M268.5 665.4V724.4M315.8 665.4V724.4M358.5 665.4V724.4M397.6 665.4V724.4M436.4 665.4V724.4M475 665.4V724.4M513.7 665.4V724.4M552.5 665.4V724.4M591.7 665.4V724.4M630 665.4V724.4M668.6 665.4V724.4M707.9 665.4V724.4M746.1 665.4V724.4M784.9 665.4V724.4M823.7 665.4V724.4M862.3 665.4V724.4M901 665.4V724.4M939.7 665.4V724.4M978.4 665.4V724.4M1017.2 665.4V724.4M1056 665.4V724.4"/>
<path class="ax" d="M38.9 670.6H42.4M1111.5 670.6H1114.5M35.9 681.7H42.4M1111.5 681.7H1117.5M38.9 692.8H42.4M1111.5 692.8H1114.5M38.9 703.9H42.4M1111.5 703.9H1114.5M38.9 715H42.4M1111.5 715H1114.5"/>
<path d="M42.4 681.7H1110" stroke="#4a4aff" stroke-width="1.1"/>
<path d="M47 681.7V680.69M51.3 681.7V679.96M55.6 681.7V679.48M59.91 681.7V678.76M64.21 681.7V678.28M68.51 681.7V677.79M72.81 681.7V677.55M77.11 681.7V677.79M81.41 681.7V678.76M85.71 681.7V679M90.02 681.7V678.28M94.32 681.7V677.79M98.62 681.7V678.76M102.92 681.7V679.96M107.22 681.7V680.21M111.52 681.7V681.17M115.83 681.7V681.17M141.64 681.7V682.23M145.94 681.7V682.71M150.24 681.7V683.44M154.54 681.7V684.4M158.84 681.7V683.44M163.14 681.7V683.44M167.45 681.7V684.4M171.75 681.7V685.12M176.05 681.7V685.61M180.35 681.7V685.85M184.65 681.7V686.33M188.95 681.7V686.33M193.26 681.7V687.05M197.56 681.7V687.05M201.86 681.7V688.02M206.16 681.7V687.54M210.46 681.7V687.05M214.76 681.7V687.54M219.07 681.7V688.74M223.37 681.7V689.95M227.67 681.7V689.95M231.97 681.7V689.95M236.27 681.7V689.95M240.57 681.7V689.47M244.88 681.7V688.02M249.18 681.7V687.05M253.48 681.7V686.33M257.78 681.7V685.12M262.08 681.7V683.44M266.38 681.7V682.71M283.59 681.7V681.17M287.89 681.7V680.69M292.19 681.7V680.21M296.5 681.7V680.69M300.8 681.7V680.69M305.1 681.7V680.21M309.4 681.7V679.48M313.7 681.7V678.76M318 681.7V677.79M322.31 681.7V677.55M326.61 681.7V677.07M330.91 681.7V677.07M335.21 681.7V677.07M339.51 681.7V677.07M343.81 681.7V677.79M348.12 681.7V678.76M352.42 681.7V678.28M356.72 681.7V677.79M361.02 681.7V677.07M365.32 681.7V677.07M369.62 681.7V676.35M373.93 681.7V675.86M378.23 681.7V675.86M382.53 681.7V675.86M386.83 681.7V676.35M391.13 681.7V677.79M395.43 681.7V678.76M399.74 681.7V681.17M455.66 681.7V682.71M459.96 681.7V683.44M464.26 681.7V683.44M468.56 681.7V685.61M472.86 681.7V686.33M477.17 681.7V688.74M481.47 681.7V688.74M485.77 681.7V689.95M490.07 681.7V697.67M494.37 681.7V705.63M498.67 681.7V712.14M502.98 681.7V713.34M507.28 681.7V713.59M511.58 681.7V712.86M515.88 681.7V712.14M520.18 681.7V711.66M524.48 681.7V710.45M528.79 681.7V708.52M533.09 681.7V708.52M537.39 681.7V708.04M541.69 681.7V708.04M545.99 681.7V706.35M550.29 681.7V704.9M554.6 681.7V704.42M558.9 681.7V705.14M563.2 681.7V705.63M567.5 681.7V706.35M571.8 681.7V706.83M576.1 681.7V708.04M580.41 681.7V708.76M584.71 681.7V709.73M589.01 681.7V711.17M593.31 681.7V716.48M597.61 681.7V717.2M601.91 681.7V717.2M606.22 681.7V715.27M610.52 681.7V711.66M614.82 681.7V708.76M619.12 681.7V704.9M623.42 681.7V700.8M627.72 681.7V695.25M632.03 681.7V690.43M636.33 681.7V687.54M640.63 681.7V685.61M644.93 681.7V684.4M649.23 681.7V683.92M653.53 681.7V682.71M657.84 681.7V684.4M662.14 681.7V684.64M666.44 681.7V683.92M679.34 681.7V682.23M683.65 681.7V682.71M700.85 681.7V678.76M705.15 681.7V676.35M709.46 681.7V676.35M713.76 681.7V676.35M718.06 681.7V676.35M722.36 681.7V676.35M726.66 681.7V675.38M730.96 681.7V675.14M735.27 681.7V674.18M739.57 681.7V673.93M743.87 681.7V672.25M748.17 681.7V672.25M752.47 681.7V671.52M756.77 681.7V670.56M761.08 681.7V670.56M765.38 681.7V671.04M769.68 681.7V671.04M773.98 681.7V670.56M778.28 681.7V671.04M782.58 681.7V671.76M786.89 681.7V671.76M791.19 681.7V671.76M795.49 681.7V672.25M799.79 681.7V673.93M804.09 681.7V676.35M808.39 681.7V678.28M812.7 681.7V679M817 681.7V679.48M821.3 681.7V680.69M825.6 681.7V680.69M847.11 681.7V680.69M851.41 681.7V681.17M855.71 681.7V681.17M860.01 681.7V680.69M877.22 681.7V683.92M881.52 681.7V685.12M885.82 681.7V687.05M890.13 681.7V688.26M894.43 681.7V689.47M898.73 681.7V689.47M903.03 681.7V688.74M907.33 681.7V688.26M911.63 681.7V688.02M915.94 681.7V685.61M920.24 681.7V683.44M950.35 681.7V682.71M954.65 681.7V683.44M958.95 681.7V683.44M963.25 681.7V683.44M967.56 681.7V684.64M971.86 681.7V685.12M976.16 681.7V687.54M980.46 681.7V689.95M984.76 681.7V691.64M989.06 681.7V693.57M993.37 681.7V695.25M997.67 681.7V695.98M1001.97 681.7V695.25M1006.27 681.7V693.08M1010.57 681.7V691.15M1014.87 681.7V689.95M1019.18 681.7V689.95M1023.48 681.7V688.74M1027.78 681.7V688.26M1032.08 681.7V688.02M1036.38 681.7V687.05M1040.68 681.7V686.33M1044.99 681.7V686.33M1049.29 681.7V686.33M1053.59 681.7V686.33M1057.89 681.7V684.64M1062.19 681.7V683.44M1066.49 681.7V682.23M1075.1 681.7V681.17M1079.4 681.7V677.79" stroke="#1010ff" stroke-width="2.8" stroke-linecap="round" fill="none"/>
<path d="M120.13 681.7m-1.21 0a1.21 1.21 0 1 0 2.41 0a1.21 1.21 0 1 0 -2.41 0zM124.43 681.7m-0.96 0a0.96 0.96 0 1 0 1.93 0a0.96 0.96 0 1 0 -1.93 0zM128.73 681.7m-0.55 0a0.55 0.55 0 1 0 1.1 0a0.55 0.55 0 1 0 -1.1 0zM133.03 681.7m-1.21 0a1.21 1.21 0 1 0 2.41 0a1.21 1.21 0 1 0 -2.41 0zM137.33 681.7m-1.69 0a1.69 1.69 0 1 0 3.38 0a1.69 1.69 0 1 0 -3.38 0zM270.69 681.7m-1.21 0a1.21 1.21 0 1 0 2.41 0a1.21 1.21 0 1 0 -2.41 0zM274.99 681.7m-0.55 0a0.55 0.55 0 1 0 1.1 0a0.55 0.55 0 1 0 -1.1 0zM279.29 681.7m-0.55 0a0.55 0.55 0 1 0 1.1 0a0.55 0.55 0 1 0 -1.1 0zM404.04 681.7m-0.72 0a0.72 0.72 0 1 0 1.45 0a0.72 0.72 0 1 0 -1.45 0zM408.34 681.7m-0.55 0a0.55 0.55 0 1 0 1.1 0a0.55 0.55 0 1 0 -1.1 0zM412.64 681.7m-0.55 0a0.55 0.55 0 1 0 1.1 0a0.55 0.55 0 1 0 -1.1 0zM416.94 681.7m-0.55 0a0.55 0.55 0 1 0 1.1 0a0.55 0.55 0 1 0 -1.1 0zM421.24 681.7m-0.55 0a0.55 0.55 0 1 0 1.1 0a0.55 0.55 0 1 0 -1.1 0zM425.55 681.7m-0.55 0a0.55 0.55 0 1 0 1.1 0a0.55 0.55 0 1 0 -1.1 0zM429.85 681.7m-0.55 0a0.55 0.55 0 1 0 1.1 0a0.55 0.55 0 1 0 -1.1 0zM434.15 681.7m-0.55 0a0.55 0.55 0 1 0 1.1 0a0.55 0.55 0 1 0 -1.1 0zM438.45 681.7m-0.55 0a0.55 0.55 0 1 0 1.1 0a0.55 0.55 0 1 0 -1.1 0zM442.75 681.7m-1.21 0a1.21 1.21 0 1 0 2.41 0a1.21 1.21 0 1 0 -2.41 0zM447.05 681.7m-1.69 0a1.69 1.69 0 1 0 3.38 0a1.69 1.69 0 1 0 -3.38 0zM451.36 681.7m-1.69 0a1.69 1.69 0 1 0 3.38 0a1.69 1.69 0 1 0 -3.38 0zM670.74 681.7m-1.69 0a1.69 1.69 0 1 0 3.38 0a1.69 1.69 0 1 0 -3.38 0zM675.04 681.7m-1.21 0a1.21 1.21 0 1 0 2.41 0a1.21 1.21 0 1 0 -2.41 0zM687.95 681.7m-1.21 0a1.21 1.21 0 1 0 2.41 0a1.21 1.21 0 1 0 -2.41 0zM692.25 681.7m-0.55 0a0.55 0.55 0 1 0 1.1 0a0.55 0.55 0 1 0 -1.1 0zM696.55 681.7m-1.21 0a1.21 1.21 0 1 0 2.41 0a1.21 1.21 0 1 0 -2.41 0zM829.9 681.7m-1.21 0a1.21 1.21 0 1 0 2.41 0a1.21 1.21 0 1 0 -2.41 0zM834.2 681.7m-0.55 0a0.55 0.55 0 1 0 1.1 0a0.55 0.55 0 1 0 -1.1 0zM838.51 681.7m-1.21 0a1.21 1.21 0 1 0 2.41 0a1.21 1.21 0 1 0 -2.41 0zM842.81 681.7m-1.69 0a1.69 1.69 0 1 0 3.38 0a1.69 1.69 0 1 0 -3.38 0zM864.32 681.7m-1.69 0a1.69 1.69 0 1 0 3.38 0a1.69 1.69 0 1 0 -3.38 0zM868.62 681.7m-0.55 0a0.55 0.55 0 1 0 1.1 0a0.55 0.55 0 1 0 -1.1 0zM872.92 681.7m-1.21 0a1.21 1.21 0 1 0 2.41 0a1.21 1.21 0 1 0 -2.41 0zM924.54 681.7m-1.69 0a1.69 1.69 0 1 0 3.38 0a1.69 1.69 0 1 0 -3.38 0zM928.84 681.7m-0.72 0a0.72 0.72 0 1 0 1.45 0a0.72 0.72 0 1 0 -1.45 0zM933.14 681.7m-0.55 0a0.55 0.55 0 1 0 1.1 0a0.55 0.55 0 1 0 -1.1 0zM937.44 681.7m-0.55 0a0.55 0.55 0 1 0 1.1 0a0.55 0.55 0 1 0 -1.1 0zM941.75 681.7m-0.55 0a0.55 0.55 0 1 0 1.1 0a0.55 0.55 0 1 0 -1.1 0zM946.05 681.7m-1.21 0a1.21 1.21 0 1 0 2.41 0a1.21 1.21 0 1 0 -2.41 0zM1070.8 681.7m-1.21 0a1.21 1.21 0 1 0 2.41 0a1.21 1.21 0 1 0 -2.41 0z" fill="#1010ff"/>
<path class="ax" d="M42.4 664.4H1111.5V724.4H42.4Z"/>
<text class="b" x="34" y="685.8" text-anchor="end">0</text>
<text class="b" x="1118.8" y="685.8">0</text>
<path d="M20 735.4H34" stroke="#1010ff" stroke-width="3"/>
<text class="l" x="42.4" y="739.3" textLength="76.2" lengthAdjust="spacingAndGlyphs">MICEX [MACD]</text>
<path class="ax" d="M42.4 744.4H1111M42.4 758H1111M42.4 771H1111M42.4 744.4V771M74.6 744.4V758M121.9 744.4V758M173 744.4V758M220.6 744.4V758M268.5 744.4V758M315.8 744.4V758M358.5 744.4V758M397.6 744.4V758M436.4 744.4V758M475 744.4V758M513.7 744.4V758M552.5 744.4V758M591.7 744.4V758M630 744.4V758M668.6 744.4V758M707.9 744.4V758M746.1 744.4V758M784.9 744.4V758M823.7 744.4V758M862.3 744.4V758M901 744.4V758M939.7 744.4V758M978.4 744.4V758M1017.2 744.4V758M1056 744.4V758M203.6 758V771M488.6 758V771M746.1 758V771M1030.9 758V771"/>
<text class="l" x="77.6" y="754.8">22</text>
<text class="l" x="124.9" y="754.8">27</text>
<text class="l" x="176" y="754.8">30</text>
<text class="l" x="223.6" y="754.8">4</text>
<text class="l" x="271.5" y="754.8">7</text>
<text class="l" x="318.8" y="754.8">12</text>
<text class="l" x="361.5" y="754.8">17</text>
<text class="l" x="400.6" y="754.8">20</text>
<text class="l" x="439.4" y="754.8">25</text>
<text class="l" x="478" y="754.8">28</text>
<text class="l" x="516.7" y="754.8">5</text>
<text class="l" x="555.5" y="754.8">11</text>
<text class="l" x="594.7" y="754.8">14</text>
<text class="l" x="633" y="754.8">19</text>
<text class="l" x="671.6" y="754.8">24</text>
<text class="l" x="710.9" y="754.8">27</text>
<text class="l" x="749.1" y="754.8">1</text>
<text class="l" x="787.9" y="754.8">4</text>
<text class="l" x="826.7" y="754.8">9</text>
<text class="l" x="865.3" y="754.8">14</text>
<text class="l" x="904" y="754.8">17</text>
<text class="l" x="942.7" y="754.8">22</text>
<text class="l" x="981.4" y="754.8">25</text>
<text class="l" x="1020.2" y="754.8">30</text>
<text class="l" x="1059" y="754.8">6</text>
<text class="l" x="206.6" y="768.4" style="font-size:10.5px">Feb</text>
<text class="l" x="491.6" y="768.4" style="font-size:10.5px">Mar</text>
<text class="l" x="749.1" y="768.4" style="font-size:10.5px">Apr</text>
<text class="l" x="1033.9" y="768.4" style="font-size:10.5px">May</text>
<rect x="1158" y="0" width="3" height="784" fill="#f8f8f8"/>
<rect x="0" y="784" width="1161" height="28" fill="#404040"/>
<text x="10.3" y="802"  font-size="12.3px" letter-spacing="1.05" textLength="248.5" lengthAdjust="spacingAndGlyphs" fill="#dedede" style="font-family:'DejaVu Sans','Liberation Sans',sans-serif">Элитный Трейдер, ELITETRADER.RU</text>
<defs><linearGradient id="ga" x1="0" y1="0" x2="0" y2="1"><stop offset="0" stop-color="#c8f060"/><stop offset="0.55" stop-color="#6cb820"/><stop offset="1" stop-color="#2c7808"/></linearGradient><linearGradient id="gb" x1="0" y1="0" x2="0" y2="1"><stop offset="0" stop-color="#f8d040"/><stop offset="0.5" stop-color="#f08020"/><stop offset="1" stop-color="#d03010"/></linearGradient><linearGradient id="gc" x1="0" y1="0" x2="1" y2="1"><stop offset="0" stop-color="#e8e020"/><stop offset="0.5" stop-color="#f8a010"/><stop offset="1" stop-color="#f04060"/></linearGradient></defs>
<path d="M1046.2 788.2L1054 797.6H1049.8V804.8H1043.6V797.6H1038.8Z" fill="url(#ga)"/>
<rect x="1037" y="799.4" width="8.8" height="5.4" fill="url(#gb)"/>
<circle cx="1088" cy="797.4" r="8" fill="url(#gc)"/>
<text x="1057.3" y="802.3" style="font-weight:bold;font-size:16.5px;letter-spacing:-1.2px" fill="#fff">clip</text>
<text x="1083.6" y="803.4" style="font-weight:bold;font-size:17.5px" fill="#fff" textLength="8.6" lengthAdjust="spacingAndGlyphs">2</text>
<text x="1096" y="802.3" style="font-weight:bold;font-size:16.5px;letter-spacing:-1.2px" fill="#fff">net</text>
<text x="1117.5" y="802.3" style="font-weight:bold;font-size:16.5px;letter-spacing:-1.2px" fill="#869090">.com</text>
</svg></body></html>
